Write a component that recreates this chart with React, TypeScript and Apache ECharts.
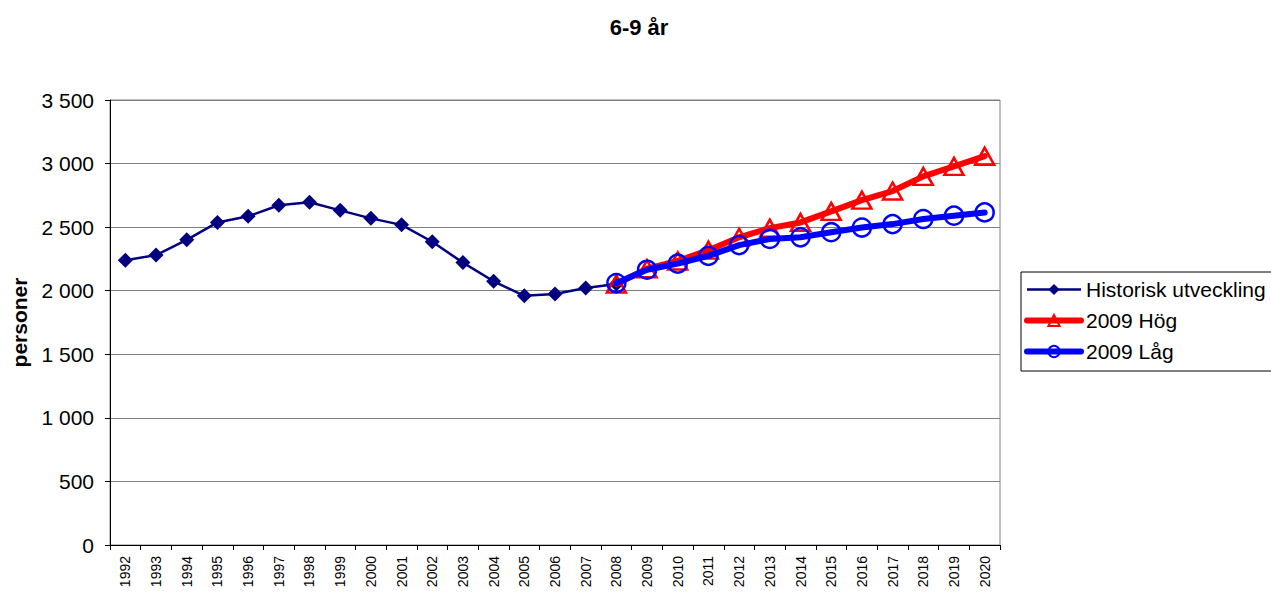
import React, { useEffect, useRef } from "react";
import * as echarts from "echarts";

const years = [
  "1992", "1993", "1994", "1995", "1996", "1997", "1998", "1999", "2000", "2001",
  "2002", "2003", "2004", "2005", "2006", "2007", "2008", "2009", "2010", "2011",
  "2012", "2013", "2014", "2015", "2016", "2017", "2018", "2019", "2020",
];

const historisk = [
  2240, 2280, 2400, 2537, 2585, 2672, 2696, 2632, 2569, 2518,
  2385, 2221, 2074, 1960, 1974, 2022, 2053,
  null, null, null, null, null, null, null, null, null, null, null, null,
];

const hog = [
  null, null, null, null, null, null, null, null, null, null,
  null, null, null, null, null, null,
  2053, 2173, 2234, 2319, 2420, 2492, 2537, 2624, 2712, 2784, 2899, 2978, 3058,
];

const lag = [
  null, null, null, null, null, null, null, null, null, null,
  null, null, null, null, null, null,
  2060, 2165, 2213, 2274, 2359, 2407, 2420, 2460, 2497, 2524, 2564, 2590, 2616,
];

const seriesNames = ["Historisk utveckling", "2009 Hög", "2009 Låg"];

const FONT = "'Liberation Sans', Arial, sans-serif";

export default function App() {
  const ref = useRef<HTMLDivElement>(null);

  useEffect(() => {
    const chart = echarts.init(ref.current!, null, { renderer: "svg" });
    chart.setOption({
      animation: false,
      backgroundColor: "#ffffff",
      textStyle: { fontFamily: FONT },
      title: {
        text: "6-9 år",
        left: 634,
        textAlign: "center",
        top: 11,
        textStyle: { fontSize: 22, fontWeight: "bold", color: "#000", fontFamily: FONT },
      },
      grid: {
        left: 110,
        right: 271,
        top: 100,
        bottom: 49,
        show: true,
        borderColor: "#808080",
        borderWidth: 1,
      },
      legend: {
        orient: "vertical",
        left: 1021,
        top: 272,
        padding: [7, 30, 9, 3],
        itemGap: 10,
        itemWidth: 54,
        itemHeight: 14,
        borderColor: "#000",
        borderWidth: 1,
        textStyle: { fontSize: 21, color: "#000", fontFamily: FONT },
        data: [
          { name: seriesNames[0], lineStyle: { width: 2.5 } },
          { name: seriesNames[1], lineStyle: { width: 6, cap: "round" } },
          { name: seriesNames[2], lineStyle: { width: 6, cap: "round" } },
        ],
      },
      xAxis: {
        type: "category",
        data: years,
        boundaryGap: true,
        axisLine: { lineStyle: { color: "#000", width: 1 } },
        axisTick: { show: true, length: 5, lineStyle: { color: "#000" }, interval: 0 },
        axisLabel: {
          rotate: 90,
          interval: 0,
          fontSize: 14,
          color: "#000",
          margin: 11,
          fontFamily: FONT,
        },
        splitLine: { show: false },
      },
      yAxis: {
        type: "value",
        min: 0,
        max: 3500,
        interval: 500,
        name: "personer",
        nameLocation: "middle",
        nameGap: 80,
        nameTextStyle: { fontSize: 21, fontWeight: "bold", color: "#000", fontFamily: FONT },
        axisLine: { show: true, lineStyle: { color: "#000", width: 1 } },
        axisTick: { show: true, length: 5, lineStyle: { color: "#000" } },
        axisLabel: {
          fontSize: 21,
          color: "#000",
          margin: 16,
          fontFamily: FONT,
          formatter: (v: number) => String(v).replace(/\B(?=(\d{3})+(?!\d))/g, " "),
        },
        splitLine: { show: true, lineStyle: { color: "#808080", width: 1 } },
      },
      series: [
        {
          name: seriesNames[0],
          type: "line",
          data: historisk,
          symbol: "diamond",
          symbolSize: 15,
          showAllSymbol: true,
          lineStyle: { color: "#000080", width: 2.5 },
          itemStyle: { color: "#000080" },
          z: 2,
        },
        {
          name: seriesNames[1],
          type: "line",
          data: hog,
          symbol: "triangle",
          symbolSize: [19, 17],
          showAllSymbol: true,
          lineStyle: { color: "#ff0000", width: 6, cap: "round" },
          itemStyle: { color: "rgba(255,255,255,0)", borderColor: "#ff0000", borderWidth: 2.5 },
          z: 3,
        },
        {
          name: seriesNames[2],
          type: "line",
          data: lag,
          symbol: "circle",
          symbolSize: 18,
          showAllSymbol: true,
          lineStyle: { color: "#0000ff", width: 6, cap: "round" },
          itemStyle: { color: "rgba(255,255,255,0)", borderColor: "#0000ff", borderWidth: 2.5 },
          z: 4,
        },
      ],
    });
    return () => chart.dispose();
  }, []);

  return (
    <div
      ref={ref}
      style={{ position: "fixed", left: 0, top: 0, width: 1271, height: 594 }}
    />
  );
}
